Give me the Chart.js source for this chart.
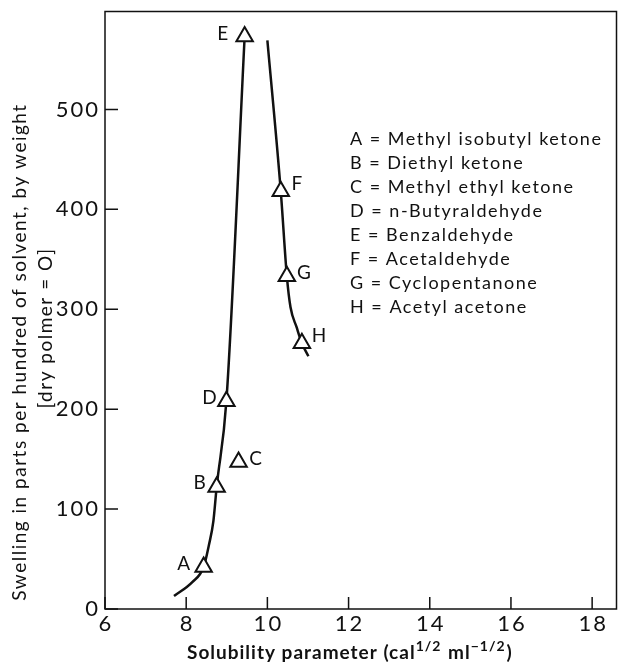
<!DOCTYPE html>
<html>
<head>
<meta charset="utf-8">
<script src="https://cdn.jsdelivr.net/npm/chart.js@4"></script>
<style>
  html, body { margin: 0; padding: 0; background: #fff; }
</style>
</head>
<body>
<canvas id="swellChart" width="628" height="664"></canvas>
<script>
// points (triangles)
const solventLetters = ['A', 'B', 'C', 'D', 'E', 'F', 'G', 'H'];
const solubilityParam = [8.43, 8.75, 9.29, 8.99, 9.44, 10.33, 10.48, 10.85];
const swelling = [42, 122, 147, 208, 573, 418, 333, 266];

// the two hand drawn curves
const leftCurveX = [7.70, 8.15, 8.43, 8.56, 8.67, 8.75, 8.99, 9.44];
const leftCurveY = [13, 27, 42, 64, 88, 122, 208, 573];
const rightCurveX = [10.00, 10.33, 10.48, 10.57, 10.72, 10.85, 11.01];
const rightCurveY = [569, 418, 333, 302, 282, 266, 253];

const xTickValues = [6, 8, 10, 12, 14, 16, 18];
const yTickValues = [0, 100, 200, 300, 400, 500];

const legendLines = [
    'A = Methyl isobutyl ketone',
    'B = Diethyl ketone',
    'C = Methyl ethyl ketone',
    'D = n-Butyraldehyde',
    'E = Benzaldehyde',
    'F = Acetaldehyde',
    'G = Cyclopentanone',
    'H = Acetyl acetone'
];

const yTitleLines = ['Swelling in parts per hundred of solvent, by weight', '[dry polmer = O]'];

// letter offsets next to each triangle (px)
const labelOffsets = [[-20, -3], [-17, -4], [17, -3], [-17, -3], [-22, -3], [16, -7], [17, -3], [17, -7]];

const FONT = 'Lato, "DejaVu Sans", sans-serif';
const INK = '#111';

const toPoints = (xs, ys) => xs.map((x, i) => ({ x: x, y: ys[i] }));

const decorPlugin = {
    id: 'decor',
    beforeDatasetsDraw(chart) {
        const { ctx, chartArea: a, scales } = chart;
        ctx.save();
        ctx.strokeStyle = INK;
        ctx.lineWidth = 1.5;
        ctx.strokeRect(a.left, a.top, a.right - a.left, a.bottom - a.top);
        // inward tick marks
        ctx.beginPath();
        xTickValues.forEach(v => {
            const px = scales.x.getPixelForValue(v);
            ctx.moveTo(px, a.bottom);
            ctx.lineTo(px, a.bottom - 12);
        });
        yTickValues.forEach(v => {
            const py = scales.y.getPixelForValue(v);
            ctx.moveTo(a.left, py);
            ctx.lineTo(a.left + 13, py);
        });
        ctx.stroke();

        // tick labels
        ctx.fillStyle = INK;
        ctx.font = '22px ' + FONT;
        ctx.letterSpacing = '2px';
        ctx.textBaseline = 'middle';
        ctx.textAlign = 'right';
        yTickValues.forEach(v => {
            ctx.fillText(String(v), a.left - 5, scales.y.getPixelForValue(v));
        });
        ctx.textAlign = 'center';
        xTickValues.forEach(v => {
            ctx.fillText(String(v), scales.x.getPixelForValue(v) + 1, a.bottom + 15);
        });
        ctx.restore();
    },
    afterDraw(chart) {
        const { ctx } = chart;
        const meta = chart.getDatasetMeta(0);
        ctx.save();
        ctx.fillStyle = INK;
        ctx.textBaseline = 'middle';
        ctx.textAlign = 'center';

        // letters by the triangles
        ctx.font = '19px ' + FONT;
        meta.data.forEach((pt, i) => {
            ctx.fillText(solventLetters[i], pt.x + labelOffsets[i][0], pt.y + labelOffsets[i][1]);
        });

        // key inside the plot
        ctx.textAlign = 'left';
        ctx.font = '18px ' + FONT;
        ctx.letterSpacing = '1.5px';
        legendLines.forEach((line, i) => {
            ctx.fillText(line, 350, 139 + i * 24);
        });

        // y title, two lines
        ctx.save();
        ctx.translate(20, 352);
        ctx.rotate(-Math.PI / 2);
        ctx.textAlign = 'center';
        ctx.font = '19px ' + FONT;
        ctx.fillText(yTitleLines[0], 0, 0);
        ctx.fillText(yTitleLines[1], 24, 26);
        ctx.restore();

        // x title with superscripts
        const parts = [
            ['Solubility parameter (cal', false],
            ['1/2', true],
            [' ml', false],
            ['\u22121/2', true],
            [')', false]
        ];
        let x = 187;
        const base = 659;
        ctx.textBaseline = 'alphabetic';
        ctx.letterSpacing = '1px';
        parts.forEach(([t, sup]) => {
            ctx.font = (sup ? 'bold 14px ' : 'bold 19px ') + FONT;
            ctx.fillText(t, x, sup ? base - 8 : base);
            x += ctx.measureText(t).width + (sup ? 1 : 0);
        });
        ctx.restore();
    }
};

const ctx = document.getElementById('swellChart');
new Chart(ctx, {
    type: 'line',
    data: {
        datasets: [
            {
                // triangles
                data: toPoints(solubilityParam, swelling),
                showLine: false,
                pointStyle: 'triangle',
                pointRadius: 9.5,
                pointBackgroundColor: '#fff',
                pointBorderColor: INK,
                pointBorderWidth: 2,
                order: 0
            },
            {
                data: toPoints(leftCurveX, leftCurveY),
                borderColor: INK,
                borderWidth: 2.5,
                pointRadius: 0,
                cubicInterpolationMode: 'monotone',
                fill: false,
                order: 1
            },
            {
                data: toPoints(rightCurveX, rightCurveY),
                borderColor: INK,
                borderWidth: 2.5,
                pointRadius: 0,
                cubicInterpolationMode: 'monotone',
                fill: false,
                order: 1
            }
        ]
    },
    options: {
        responsive: false,
        animation: false,
        layout: { padding: { top: 11, right: 3, left: 0, bottom: 0 } },
        scales: {
            x: {
                type: 'linear',
                min: 6,
                max: 18.6,
                grid: { display: false, drawTicks: false },
                border: { display: false },
                ticks: { display: false },
                afterFit: scale => {
                    scale.height = 55;
                    scale.paddingLeft = 0;
                    scale.paddingRight = 0;
                }
            },
            y: {
                type: 'linear',
                min: 0,
                max: 598,
                grid: { display: false, drawTicks: false },
                border: { display: false },
                ticks: { display: false },
                afterFit: scale => {
                    scale.width = 105;
                    scale.paddingTop = 0;
                    scale.paddingBottom = 0;
                }
            }
        },
        plugins: {
            legend: { display: false },
            tooltip: { enabled: false }
        }
    },
    plugins: [decorPlugin]
});
</script>
</body>
</html>
